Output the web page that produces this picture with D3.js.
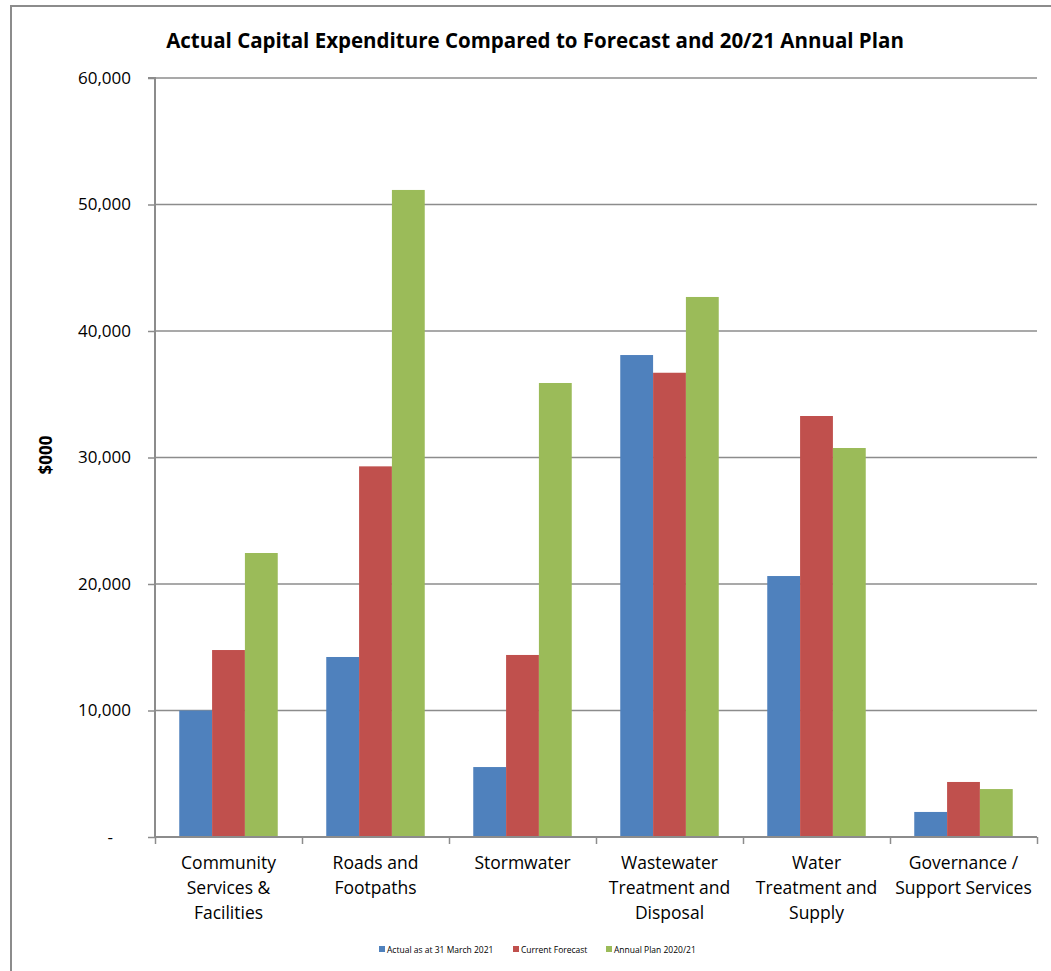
<!DOCTYPE html>
<html>
<head>
<meta charset="utf-8">
<script src="https://cdn.jsdelivr.net/npm/d3@7"></script>
<style>
  body { margin: 0; background: #fff; }
  svg text { font-family: "Open Sans", "Noto Sans", sans-serif; fill: #000; }
</style>
</head>
<body>
<svg id="chart" width="1051" height="971"></svg>
<script>
// categories, series and ticks
var categories = [
  ["Community", "Services &", "Facilities"],
  ["Roads and", "Footpaths"],
  ["Stormwater"],
  ["Wastewater", "Treatment and", "Disposal"],
  ["Water", "Treatment and", "Supply"],
  ["Governance /", "Support Services"]
];
var seriesNames = ["Actual as at 31 March 2021", "Current Forecast", "Annual Plan 2020/21"];
var actual   = [10000, 14230, 5530, 38100, 20630, 1980];
var forecast = [14780, 29300, 14390, 36700, 33280, 4350];
var plan     = [22450, 51150, 35890, 42690, 30750, 3790];
var yTicks = [0, 10000, 20000, 30000, 40000, 50000, 60000];
var colors = ["#4F81BD", "#C0504D", "#9BBB59"];

var seriesValues = [actual, forecast, plan];
var svg = d3.select("#chart");

// outer chart frame (runs off the right/bottom edge like the screenshot)
svg.append("rect")
  .attr("x", 11).attr("y", 6)
  .attr("width", 1060).attr("height", 990)
  .attr("fill", "none")
  .attr("stroke", "#8c8c8c")
  .attr("stroke-width", 2);

var plotLeft = 155, plotRight = 1037, plotTop = 78, plotBottom = 837;

var x0 = d3.scaleBand()
  .domain(d3.range(categories.length))
  .range([plotLeft, plotRight])
  .paddingInner(0.33)
  .paddingOuter(0.165);
var x1 = d3.scaleBand()
  .domain(d3.range(seriesNames.length))
  .range([0, x0.bandwidth()]);
var y = d3.scaleLinear().domain([0, 60000]).range([plotBottom, plotTop]);

// gridlines
svg.append("g")
  .selectAll("line")
  .data(yTicks.slice(1))
  .join("line")
  .attr("x1", plotLeft).attr("x2", plotRight)
  .attr("y1", (d) => y(d)).attr("y2", (d) => y(d))
  .attr("stroke", "#8c8c8c")
  .attr("stroke-width", 1.5);

// bars
var groups = svg.append("g")
  .selectAll("g")
  .data(categories)
  .join("g")
  .attr("transform", (d, i) => `translate(${x0(i)},0)`);

groups.selectAll("rect")
  .data((d, i) => seriesValues.map((s, k) => ({k: k, v: s[i]})))
  .join("rect")
  .attr("x", (d) => x1(d.k))
  .attr("width", x1.bandwidth())
  .attr("y", (d) => y(d.v))
  .attr("height", (d) => plotBottom - y(d.v))
  .attr("fill", (d) => colors[d.k]);

// y axis
var yAxis = d3.axisLeft(y)
  .tickValues(yTicks)
  .tickSize(7)
  .tickPadding(17)
  .tickFormat((d) => d === 0 ? "-" : d3.format(",")(d));
var yg = svg.append("g")
  .attr("transform", `translate(${plotLeft},0)`)
  .call(yAxis);
yg.select(".domain").attr("stroke", "#8c8c8c").attr("stroke-width", 2).attr("d", `M-7,${plotTop}H0V${plotBottom}`);
yg.selectAll(".tick line").attr("stroke", "#8c8c8c").attr("stroke-width", 1.5);
yg.selectAll(".tick text")
  .style("font-size", "17px")
  .attr("fill", "#222")
  .attr("dx", (d) => d === 0 ? "-18" : "0");

// x axis with ticks between categories
var xEdge = d3.scaleLinear().domain([0, categories.length]).range([plotLeft, plotRight]);
var xAxis = d3.axisBottom(xEdge)
  .ticks(categories.length)
  .tickSize(7)
  .tickFormat("");
var xg = svg.append("g")
  .attr("transform", `translate(0,${plotBottom})`)
  .call(xAxis);
xg.select(".domain").attr("stroke", "#8c8c8c").attr("stroke-width", 2).attr("d", `M${plotLeft},0H${plotRight}`);
xg.selectAll(".tick line").attr("stroke", "#8c8c8c").attr("stroke-width", 1.5);

// category labels
svg.append("g")
  .selectAll("text")
  .data(categories)
  .join("text")
  .attr("x", (d, i) => x0(i) + x0.bandwidth() / 2)
  .attr("y", 869)
  .attr("text-anchor", "middle")
  .style("font-size", "17.5px")
  .attr("fill", "#222")
  .selectAll("tspan")
  .data((d) => d)
  .join("tspan")
  .attr("x", function () { return this.parentNode.getAttribute("x"); })
  .attr("dy", (d, i) => i === 0 ? 0 : 25)
  .text((d) => d);

// title
svg.append("text")
  .attr("x", 535).attr("y", 48)
  .attr("text-anchor", "middle")
  .style("font-size", "20.5px")
  .style("font-weight", "bold")
  .text("Actual Capital Expenditure Compared to Forecast and 20/21 Annual Plan");

// y label
svg.append("text")
  .attr("transform", "translate(52,455) rotate(-90)")
  .attr("text-anchor", "middle")
  .style("font-size", "17px")
  .style("font-weight", "bold")
  .text("$000");

// legend
var legendX = [379, 513, 606];
var legend = svg.append("g")
  .selectAll("g")
  .data(seriesNames)
  .join("g")
  .attr("transform", (d, i) => `translate(${legendX[i]},946)`);
legend.append("rect")
  .attr("width", 6).attr("height", 6)
  .attr("fill", (d, i) => colors[i]);
legend.append("text")
  .attr("x", 8).attr("y", 6.5)
  .style("font-size", "8.5px")
  .attr("fill", "#222")
  .text((d) => d);
</script>
</body>
</html>
